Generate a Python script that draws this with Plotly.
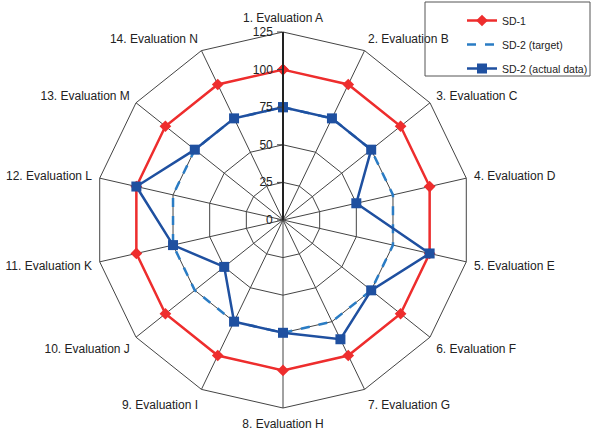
import plotly.graph_objects as go

categories = ["1. Evaluation A", "2. Evaluation B", "3. Evaluation C", "4. Evaluation D",
              "5. Evaluation E", "6. Evaluation F", "7. Evaluation G", "8. Evaluation H",
              "9. Evaluation I", "10. Evaluation J", "11. Evaluation K", "12. Evaluation L",
              "13. Evaluation M", "14. Evaluation N"]
sd1 = [100] * 14
sd2_target = [75] * 14
sd2_actual = [75, 75, 75, 50, 100, 75, 88, 75, 75, 50, 75, 100, 75, 75]
radial_ticks = [0, 25, 50, 75, 100, 125]

def closed(v):
    return v + v[:1]

theta = closed(categories)

fig = go.Figure()
fig.add_trace(go.Scatterpolar(
    r=closed(sd1), theta=theta, name="SD-1", mode="lines+markers", legendgroup="a",
    line=dict(color="#EE2D2D", width=2.5),
    marker=dict(symbol="diamond", size=9, color="#EE2D2D")))
fig.add_trace(go.Scatterpolar(
    r=closed(sd2_target), theta=theta, name="SD-2 (target)", mode="lines", legendgroup="b",
    line=dict(color="#2A7CC4", width=2.5, dash="dash")))
fig.add_trace(go.Scatterpolar(
    r=closed(sd2_actual), theta=theta, name="SD-2 (actual data)", mode="lines+markers",
    legendgroup="c",
    line=dict(color="#1F50A0", width=2.5),
    marker=dict(symbol="square", size=10, color="#1F50A0")))

W, H = 593, 434
cx, cy, R = 283, 220, 188
fig.update_layout(
    width=W, height=H,
    margin=dict(l=0, r=0, t=0, b=0),
    paper_bgcolor="white", plot_bgcolor="white",
    font=dict(family="Liberation Sans, Arial, sans-serif", size=12, color="#222"),
    polar=dict(
        domain=dict(x=[(cx - R) / W, (cx + R) / W], y=[1 - (cy + R) / H, 1 - (cy - R) / H]),
        bgcolor="white",
        gridshape="linear",
        angularaxis=dict(rotation=90, direction="clockwise", showline=True,
                         linecolor="#444", linewidth=1, gridcolor="#444", gridwidth=1,
                         ticks="outside", ticklen=5, tickcolor="rgba(0,0,0,0)",
                         tickfont=dict(size=12, color="#222")),
        radialaxis=dict(range=[0, 125], tickvals=radial_ticks, angle=90, tickangle=90,
                        side="counterclockwise", showline=True, linecolor="#222", linewidth=2,
                        gridcolor="#444", gridwidth=1, ticks="outside", ticklen=5,
                        tickcolor="#444", tickfont=dict(size=12, color="#222")),
    ),
    legend=dict(x=462 / W, y=1 - 6 / H, xanchor="left", yanchor="top",
                borderwidth=0, bgcolor="rgba(0,0,0,0)", traceorder="grouped",
                font=dict(size=10.5, color="#222"), tracegroupgap=5),
    shapes=[dict(type="rect", xref="paper", yref="paper",
                 x0=425 / W, x1=590 / W, y0=1 - 76 / H, y1=1 - 2 / H,
                 line=dict(color="#555", width=1), fillcolor="rgba(0,0,0,0)")],
)
fig.write_html("out.html")
